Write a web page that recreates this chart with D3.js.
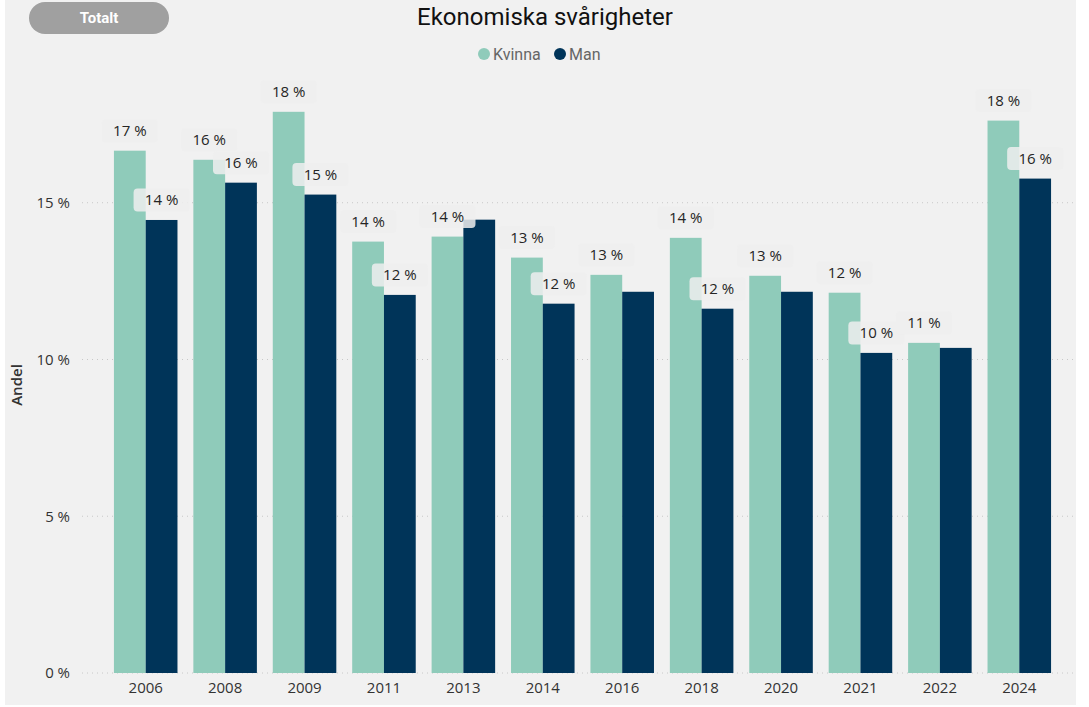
<!DOCTYPE html>
<html>
<head>
<meta charset="utf-8">
<script src="https://cdn.jsdelivr.net/npm/d3@7"></script>
<style>
  body { margin: 0; background: #ffffff; }
  svg { display: block; }
</style>
</head>
<body>
<div id="chart"></div>
<script>
// data
var years = ["2006", "2008", "2009", "2011", "2013", "2014", "2016", "2018", "2020", "2021", "2022", "2024"];
var kvinna = [16.66, 16.37, 17.9, 13.76, 13.92, 13.25, 12.7, 13.88, 12.67, 12.13, 10.53, 17.62];
var man = [14.45, 15.64, 15.26, 12.06, 14.46, 11.78, 12.16, 11.62, 12.16, 10.21, 10.37, 15.77];
var yTicks = [0, 5, 10, 15];
var seriesNames = ["Kvinna", "Man"];
var colors = ["#8fcbba", "#003459"];

var W = 1089, H = 707;
var margin = { top: 93, right: 30, bottom: 34, left: 106 };

var svg = d3.select("#chart")
  .append("svg")
  .attr("width", W)
  .attr("height", H);

// panel background
svg.append("rect")
  .attr("x", 5).attr("y", 0)
  .attr("width", 1071).attr("height", 705)
  .attr("fill", "#f1f1f1");

// "Totalt" button
svg.append("rect")
  .attr("x", 29).attr("y", 2)
  .attr("width", 140).attr("height", 32)
  .attr("rx", 16)
  .attr("fill", "#a0a0a0");
svg.append("text")
  .attr("x", 99).attr("y", 23)
  .attr("text-anchor", "middle")
  .style("font-family", "Roboto")
  .style("font-weight", "bold")
  .style("font-size", "15px")
  .attr("fill", "#ffffff")
  .text("Totalt");

// title
svg.append("text")
  .attr("x", 545).attr("y", 25)
  .attr("text-anchor", "middle")
  .style("font-family", "Roboto")
  .style("font-size", "24px")
  .attr("fill", "#111111")
  .text("Ekonomiska svårigheter");

// legend
var legend = svg.append("g");
var legendX = [484, 560];
seriesNames.forEach(function (name, i) {
  legend.append("circle")
    .attr("cx", legendX[i]).attr("cy", 54).attr("r", 6)
    .attr("fill", colors[i]);
  legend.append("text")
    .attr("x", legendX[i] + 9).attr("y", 59.5)
    .style("font-family", "Roboto")
    .style("font-size", "16px")
    .attr("fill", "#666666")
    .text(name);
});

// scales
var x = d3.scaleBand()
  .domain(years)
  .range([margin.left, 1059])
  .paddingInner(0.2)
  .paddingOuter(0.1);

var xSub = d3.scaleBand()
  .domain(seriesNames)
  .range([0, x.bandwidth()]);

var y = d3.scaleLinear()
  .domain([0, 18.5])
  .range([673, margin.top]);

// gridlines
svg.append("g")
  .selectAll("line")
  .data(yTicks)
  .enter()
  .append("line")
  .attr("x1", 82).attr("x2", 1075)
  .attr("y1", function (d) { return y(d); })
  .attr("y2", function (d) { return y(d); })
  .attr("stroke", "#c8c8c8")
  .attr("stroke-width", 1)
  .attr("stroke-dasharray", "1,4");

// y axis
var yAxis = svg.append("g")
  .attr("transform", "translate(76,0)")
  .call(d3.axisLeft(y).tickValues(yTicks).tickSize(0).tickPadding(6)
    .tickFormat(function (d) { return d + " %"; }));
yAxis.select(".domain").remove();
yAxis.selectAll("text")
  .style("font-family", "Open Sans")
  .style("font-size", "15px")
  .attr("fill", "#333333");

svg.append("text")
  .attr("transform", "translate(22,385) rotate(-90)")
  .attr("text-anchor", "middle")
  .style("font-family", "Open Sans")
  .style("font-weight", "600")
  .style("font-size", "15px")
  .attr("fill", "#333333")
  .text("Andel");

// x axis
var xAxis = svg.append("g")
  .attr("transform", "translate(0,673)")
  .call(d3.axisBottom(x).tickSize(0).tickPadding(9));
xAxis.select(".domain").remove();
xAxis.selectAll("text")
  .style("font-family", "Open Sans")
  .style("font-size", "15px")
  .attr("fill", "#333333");

// bars
var rows = years.map(function (yr, i) {
  return { year: yr, values: [kvinna[i], man[i]] };
});

var groups = svg.append("g")
  .selectAll("g")
  .data(rows)
  .enter()
  .append("g")
  .attr("transform", function (d) { return "translate(" + x(d.year) + ",0)"; });

groups.selectAll("rect")
  .data(function (d) { return d.values.map(function (v, j) { return { name: seriesNames[j], value: v, j: j }; }); })
  .enter()
  .append("rect")
  .attr("x", function (d) { return xSub(d.name); })
  .attr("y", function (d) { return y(d.value); })
  .attr("width", xSub.bandwidth())
  .attr("height", function (d) { return y(0) - y(d.value); })
  .attr("fill", function (d) { return colors[d.j]; });

// data labels (Man label hidden when it collides with Kvinna label)
var boxW = 56, boxH = 23, lift = 20;
groups.each(function (d) {
  var g = d3.select(this);
  var yk = y(d.values[0]) - lift;
  var ym = y(d.values[1]) - lift;
  var labels = [{ j: 0, cy: yk }];
  if (Math.abs(yk - ym) >= 22) labels.push({ j: 1, cy: ym });
  labels.forEach(function (l) {
    var cx = xSub(seriesNames[l.j]) + xSub.bandwidth() / 2;
    g.append("rect")
      .attr("x", cx - boxW / 2).attr("y", l.cy - boxH / 2)
      .attr("width", boxW).attr("height", boxH)
      .attr("rx", 4)
      .attr("fill", "#eeeeee")
      .attr("opacity", 0.85);
    g.append("text")
      .attr("x", cx).attr("y", l.cy + 5.5)
      .attr("text-anchor", "middle")
      .style("font-family", "Open Sans")
      .style("font-size", "15px")
      .attr("fill", "#252525")
      .text(Math.round(d.values[l.j]) + " %");
  });
});
</script>
</body>
</html>
